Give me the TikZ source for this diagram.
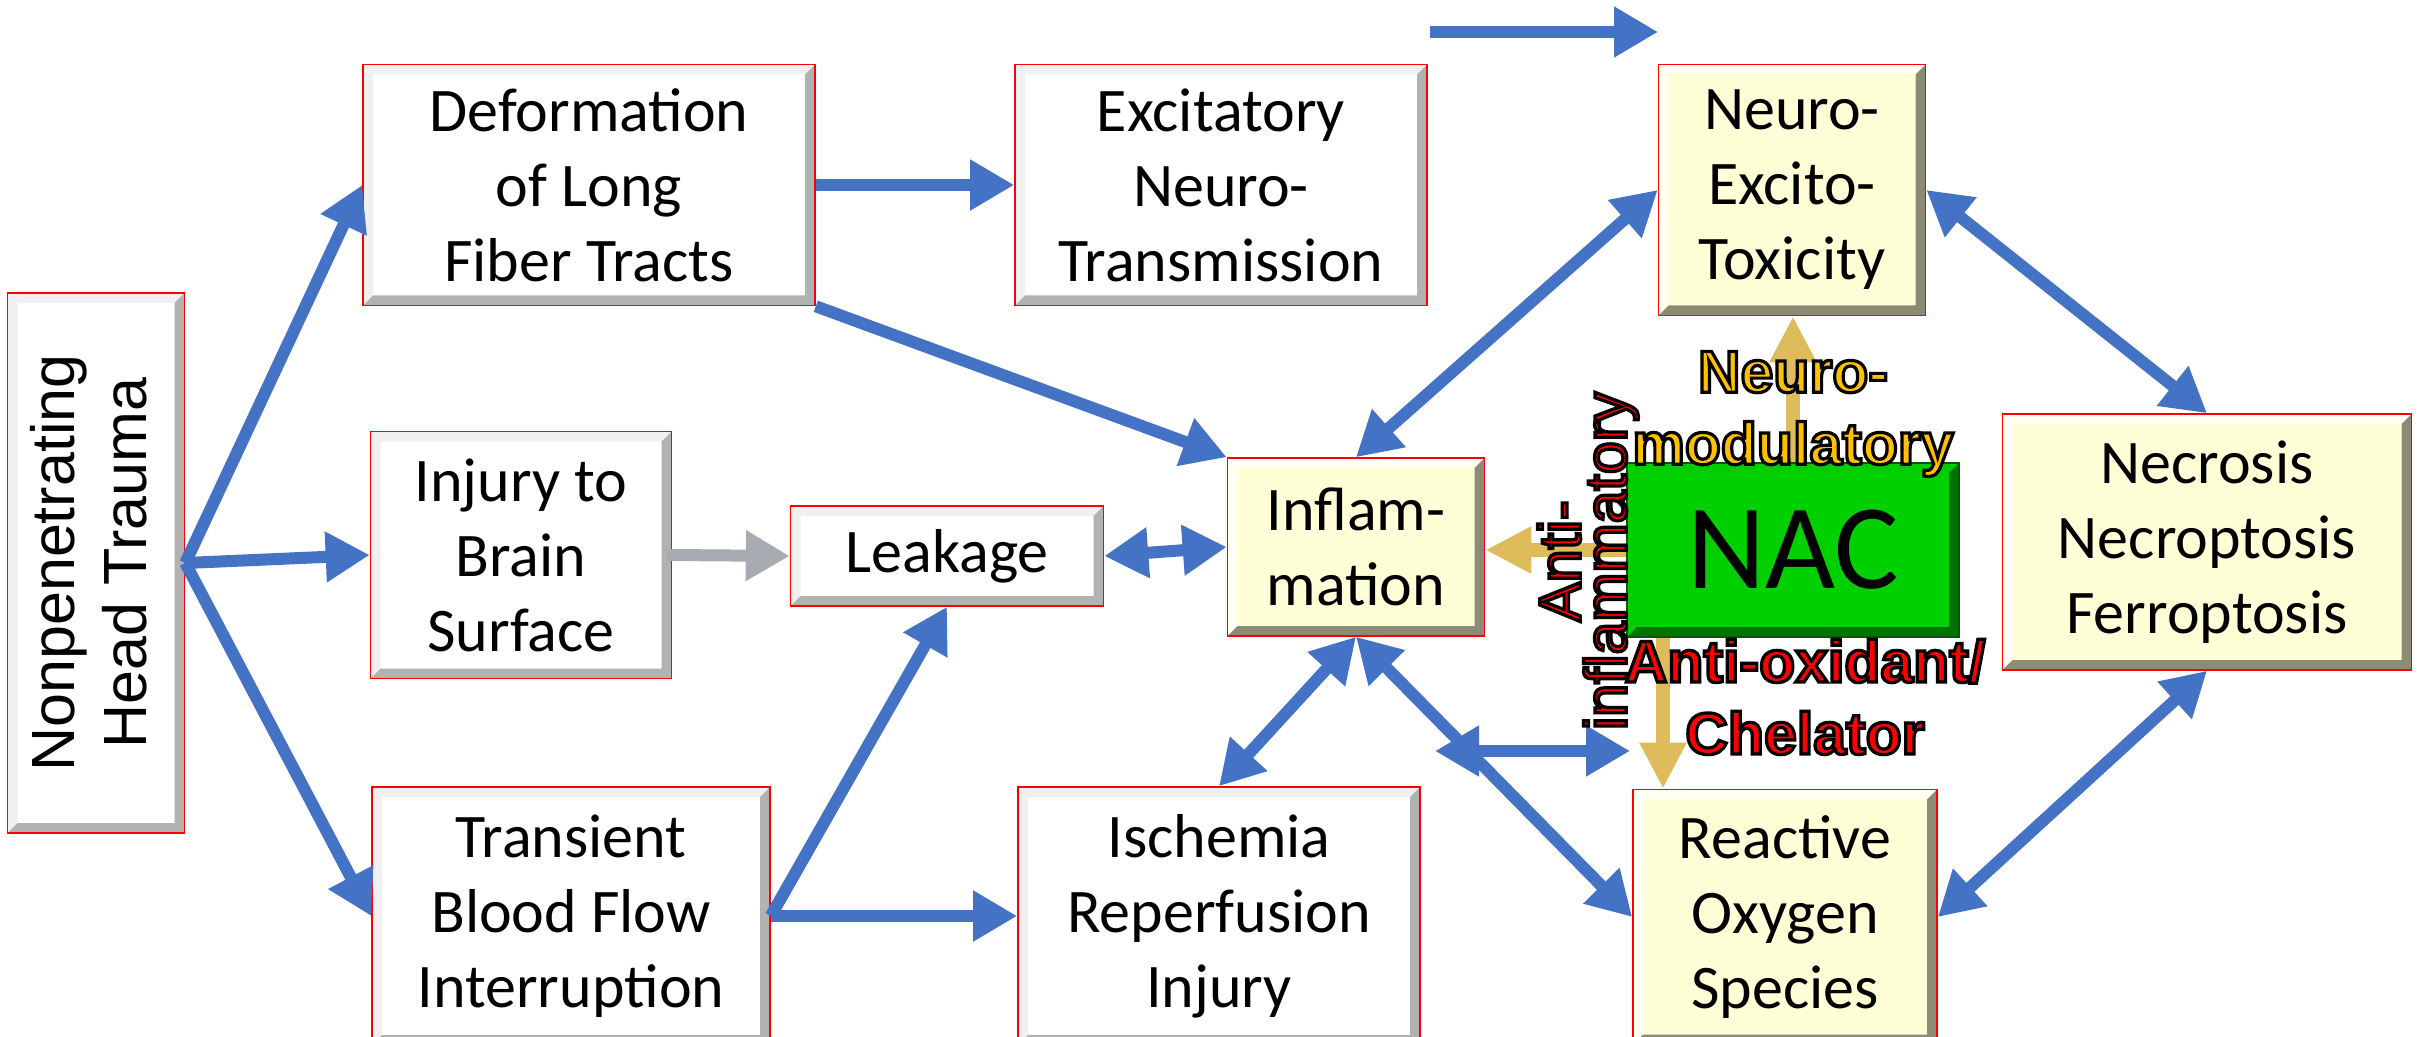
\documentclass[tikz,border=0pt]{standalone}
\usepackage{fontspec}
\usepackage{graphicx}
\setmainfont{Carlito}
\newfontfamily\arialfont{Liberation Sans}
\usetikzlibrary{arrows.meta}
\definecolor{arrowblue}{RGB}{68,114,196}
\definecolor{arrowgold}{RGB}{222,188,92}
\definecolor{arrowgray}{RGB}{168,172,178}
\definecolor{cream}{RGB}{255,255,215}
\definecolor{nacgreen}{RGB}{0,208,0}
\definecolor{nacedge}{RGB}{0,90,0}
\definecolor{labelgold}{RGB}{255,192,0}
\newcommand\outlined[1]{\special{pdf:literal direct 2 Tr 1.6 w 0 0 0 RG}#1\special{pdf:literal direct 0 Tr}}

\begin{document}
\begin{tikzpicture}[x=0.5pt,y=-0.5pt,
                bevel/.style n args={2}{path picture={
                    \coordinate (pnw) at (path picture bounding box.north west);
                    \coordinate (pne) at (path picture bounding box.north east);
                    \coordinate (psw) at (path picture bounding box.south west);
                    \coordinate (pse) at (path picture bounding box.south east);
                    \fill[#1] (pnw) -- (pne) -- ([shift={(-5pt,-5pt)}]pne) -- ([shift={(5pt,-5pt)}]pnw)
                        -- ([shift={(5pt,5pt)}]psw) -- (psw) -- cycle;
                    \fill[#2] (pne) -- (pse) -- (psw) -- ([shift={(5pt,5pt)}]psw)
                        -- ([shift={(-5pt,5pt)}]pse) -- ([shift={(-5pt,-5pt)}]pne) -- cycle;
                }},
                box/.style={draw=red,line width=0.8pt,fill=white,bevel={gray!12}{gray!60},
                    align=center,inner sep=0pt,font=\fontsize{31}{37.5}\selectfont},
                creambox/.style={box,fill=cream,bevel={white!70!cream}{cream!55!black}},
                lbl/.style={align=center,inner sep=0pt,font=\arialfont\bfseries\fontsize{29.5}{36}\selectfont},
                arr/.style={draw=arrowblue,line width=6pt,-{Triangle[length=22pt,width=24pt]}},
                darr/.style={arr,{Triangle[length=22pt,width=24pt]}-{Triangle[length=22pt,width=24pt]}},
                grayarr/.style={draw=arrowgray,line width=6pt,line cap=round,-{Triangle[length=22pt,width=24pt]}},
                garr/.style={draw=arrowgold,line width=7pt,-{Triangle[length=23pt,width=22pt]}}
            ]
                \useasboundingbox (0,0) rectangle (2420,1037);
                \node[box,minimum width=88.5pt,minimum height=270pt] (ht) at (96,563)
                    {\rotatebox{90}{\arialfont\fontsize{30.5}{36}\selectfont
                    \begin{tabular}{@{}c@{}}Nonpenetrating\\Head Trauma\end{tabular}}};
                \node[box,minimum width=226pt,minimum height=120.5pt] (def) at (589,185)
                    {Deformation\\of Long\\Fiber Tracts};
                \node[box,minimum width=206pt,minimum height=120.5pt] (exc) at (1221,185)
                    {Excitatory\\Neuro-\\Transmission};
                \node[creambox,minimum width=133.5pt,minimum height=125.5pt] (net) at (1792,190)
                    {Neuro-\\Excito-\\Toxicity};
                \node[box,minimum width=150.5pt,minimum height=123.5pt] (inj) at (521,555)
                    {Injury to\\Brain\\Surface};
                \node[box,minimum width=156.5pt,minimum height=50pt] (leak) at (947,556) {Leakage};
                \node[creambox,minimum width=128.5pt,minimum height=89pt] (infl) at (1356,547)
                    {Inflam-\\mation};
                \node[box,draw=nacedge,fill=nacgreen,bevel={green!80!black}{green!45!black},
                    minimum width=166pt,minimum height=87pt,font=\fontsize{60.5}{70}\selectfont]
                    (nac) at (1793,550) {NAC};
                \node[creambox,minimum width=204.5pt,minimum height=128pt] (nec) at (2207,542)
                    {Necrosis\\Necroptosis\\Ferroptosis};
                \node[box,minimum width=199pt,minimum height=129pt] (tbf) at (571,916)
                    {Transient\\Blood Flow\\Interruption};
                \node[box,minimum width=201pt,minimum height=129pt] (isch) at (1219,916)
                    {Ischemia\\Reperfusion\\Injury};
                \node[creambox,minimum width=152pt,minimum height=127.5pt] (ros) at (1785,917)
                    {Reactive\\Oxygen\\Species};
                \coordinate (topa) at (1430,32);
                \coordinate (topb) at (1658,32);
                \coordinate (mida) at (1435,751);
                \coordinate (midb) at (1630,751);
                \coordinate (nacdn) at ([xshift=-65pt]nac.south);
                \draw[arr] (ht.east) -- (def.west);
                \draw[arr] (ht.east) -- (inj.west);
                \draw[arr] (ht.east) -- (tbf.west);
                \draw[arr] (def.east) -- (exc.west);
                \draw[arr] (def.south east) -- (infl.north west);
                \draw[grayarr] (inj.east) -- (leak.west);
                \draw[darr] (leak.east) -- (infl.west);
                \draw[arr] (tbf.east) -- (leak.south);
                \draw[arr] (tbf.east) -- (isch.west);
                \draw[darr] (isch.north) -- (infl.south);
                \draw[darr] (infl.south) -- (ros.west);
                \draw[darr] (mida) -- (midb);
                \draw[darr] (infl.north) -- (net.west);
                \draw[darr] (net.east) -- (nec.north);
                \draw[darr] (nec.south) -- (ros.east);
                \draw[arr] (topa) -- (topb);
                \draw[garr] (nac.north) -- (nac.north |- net.south);
                \draw[garr] (nac.west) -- (nac.west -| infl.east);
                \draw[garr] (nacdn) -- (nacdn |- ros.north);
                \node[lbl,text=labelgold] (neumod) at (1793,414) {\outlined{Neuro-\\modulatory}};
                \node[lbl,text=red] (antiox) at (1805,697) {\outlined{Anti-oxidant/\\Chelator}};
                \node[lbl,text=red,rotate=90,font=\arialfont\fontsize{29.5}{23}\selectfont]
                    (antiinf) at (1588,561) {\outlined{Anti-\\inflammatory}};
            \end{tikzpicture}
\end{document}
